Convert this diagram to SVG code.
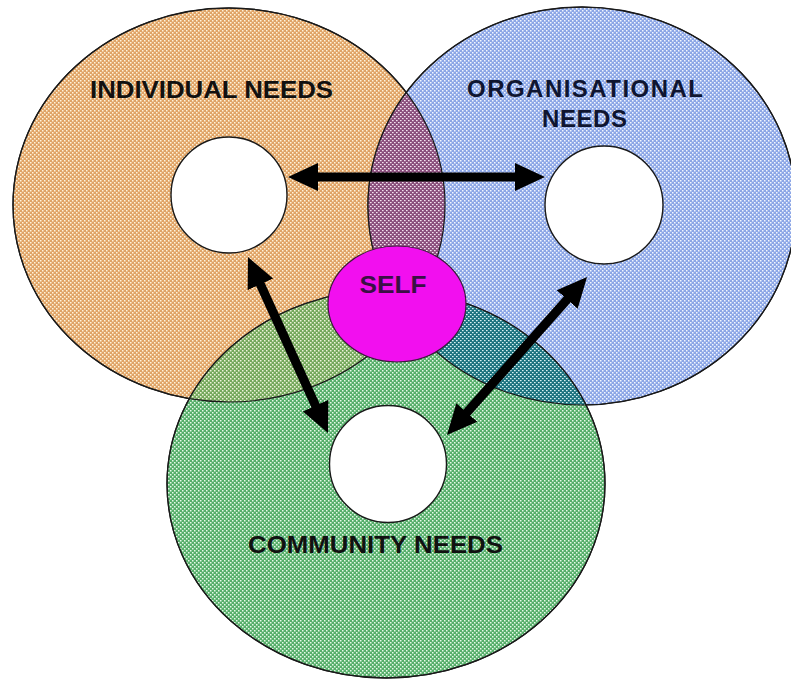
<svg xmlns="http://www.w3.org/2000/svg" width="791" height="679" viewBox="0 0 791 679">
  <style>
    .ring { stroke: #1a1a1a; stroke-width: 1.3; }
    .hole { fill: #ffffff; stroke: #1a1a1a; stroke-width: 1.4; }
    .edge { fill: none; stroke: #1a1a1a; stroke-width: 1.2; }
    .lbl { font-family: "Liberation Sans", Arial, sans-serif; font-weight: bold; font-size: 24px; fill: #111111; }
    .conn { stroke: #000000; stroke-width: 9; fill: none; marker-start: url(#head); marker-end: url(#head); }
  </style>
  <defs>
    <pattern id="pOrange" width="4" height="4" patternUnits="userSpaceOnUse">
      <rect width="4" height="4" fill="#E0A366"/>
      <rect x="0" y="0" width="1.5" height="1.5" fill="#FFF4DA"/>
      <rect x="2" y="2" width="1.5" height="1.5" fill="#FFF4DA"/>
    </pattern>
    <pattern id="pBlue" width="4" height="4" patternUnits="userSpaceOnUse">
      <rect width="4" height="4" fill="#8CA6E6"/>
      <rect x="0" y="0" width="1.5" height="1.5" fill="#F2F6FF"/>
      <rect x="2" y="2" width="1.5" height="1.5" fill="#F2F6FF"/>
    </pattern>
    <pattern id="pGreen" width="4" height="4" patternUnits="userSpaceOnUse">
      <rect width="4" height="4" fill="#56AE6A"/>
      <rect x="0" y="0" width="1.5" height="1.5" fill="#E6FAE8"/>
      <rect x="2" y="2" width="1.5" height="1.5" fill="#E6FAE8"/>
    </pattern>
    <pattern id="pMauve" width="4" height="4" patternUnits="userSpaceOnUse">
      <rect width="4" height="4" fill="#8A4E7C"/>
      <rect x="0" y="0" width="1.6" height="1.2" fill="#F4E2F0"/>
      <rect x="2" y="2" width="1.6" height="1.2" fill="#F4E2F0"/>
    </pattern>
    <pattern id="pTeal" width="4" height="4" patternUnits="userSpaceOnUse">
      <rect width="4" height="4" fill="#1B727E"/>
      <rect x="0" y="0" width="1.6" height="1.2" fill="#D8F2F2"/>
      <rect x="2" y="2" width="1.6" height="1.2" fill="#D8F2F2"/>
    </pattern>
    <pattern id="pOlive" width="4" height="4" patternUnits="userSpaceOnUse">
      <rect width="4" height="4" fill="#74A85C"/>
      <rect x="0" y="0" width="1.5" height="1.5" fill="#EEF4DA"/>
      <rect x="2" y="2" width="1.5" height="1.5" fill="#EEF4DA"/>
    </pattern>
    <clipPath id="cOrange"><ellipse cx="229" cy="205" rx="216" ry="197"/></clipPath>
    <clipPath id="cBlue"><ellipse cx="582" cy="206" rx="214" ry="199"/></clipPath>
    <marker id="head" viewBox="0 0 30 30" refX="15" refY="15" markerWidth="30" markerHeight="30" markerUnits="userSpaceOnUse" orient="auto-start-reverse">
      <path d="M0,1 L30,15 L0,29 z" fill="#000000"/>
    </marker>
  </defs>

  <rect width="791" height="679" fill="#ffffff"/>

  <g id="individual-needs">
    <ellipse cx="229" cy="205" rx="216" ry="197" fill="url(#pOrange)" class="ring"/>
  </g>
  <g id="organisational-needs">
    <ellipse cx="582" cy="206" rx="214" ry="199" fill="url(#pBlue)" class="ring"/>
  </g>
  <g id="community-needs">
    <ellipse cx="386" cy="484" rx="219" ry="194" fill="url(#pGreen)" class="ring"/>
  </g>

  <g id="overlaps">
    <ellipse cx="582" cy="206" rx="214" ry="199" fill="url(#pMauve)" clip-path="url(#cOrange)"/>
    <ellipse cx="386" cy="484" rx="219" ry="194" fill="url(#pOlive)" clip-path="url(#cOrange)"/>
    <ellipse cx="386" cy="484" rx="219" ry="194" fill="url(#pTeal)" clip-path="url(#cBlue)"/>
    <ellipse cx="229" cy="205" rx="216" ry="197" class="edge"/>
    <ellipse cx="582" cy="206" rx="214" ry="199" class="edge"/>
    <ellipse cx="386" cy="484" rx="219" ry="194" class="edge"/>
  </g>

  <g id="individual-hole">
    <circle cx="229" cy="195" r="58" class="hole"/>
  </g>
  <g id="organisational-hole">
    <circle cx="604" cy="205" r="59" class="hole"/>
  </g>
  <g id="community-hole">
    <circle cx="388" cy="464" r="58.5" class="hole"/>
  </g>

  <g id="self">
    <ellipse cx="397" cy="304" rx="69" ry="58" fill="#F20FEF" stroke="#3a1a3a" stroke-width="1.2"/>
    <text x="393" y="293" class="lbl" style="fill:#3A0F45" text-anchor="middle" textLength="67" lengthAdjust="spacingAndGlyphs">SELF</text>
  </g>

  <g id="labels">
    <text x="211.5" y="98" class="lbl" text-anchor="middle" textLength="243" lengthAdjust="spacingAndGlyphs">INDIVIDUAL NEEDS</text>
    <text x="585" y="97" class="lbl" text-anchor="middle" textLength="236" lengthAdjust="spacing" style="fill:#0f1530">ORGANISATIONAL</text>
    <text x="584.5" y="127" class="lbl" text-anchor="middle" textLength="85" lengthAdjust="spacing" style="fill:#0f1530">NEEDS</text>
    <text x="375.5" y="553" class="lbl" text-anchor="middle" textLength="255" lengthAdjust="spacingAndGlyphs">COMMUNITY NEEDS</text>
  </g>

  <g id="connectors">
    <line x1="303" y1="177" x2="530" y2="177" class="conn"/>
    <line x1="254.2" y1="270.7" x2="321.8" y2="419.3" class="conn"/>
    <line x1="577.1" y1="288.2" x2="456.9" y2="423.8" class="conn"/>
  </g>
</svg>
